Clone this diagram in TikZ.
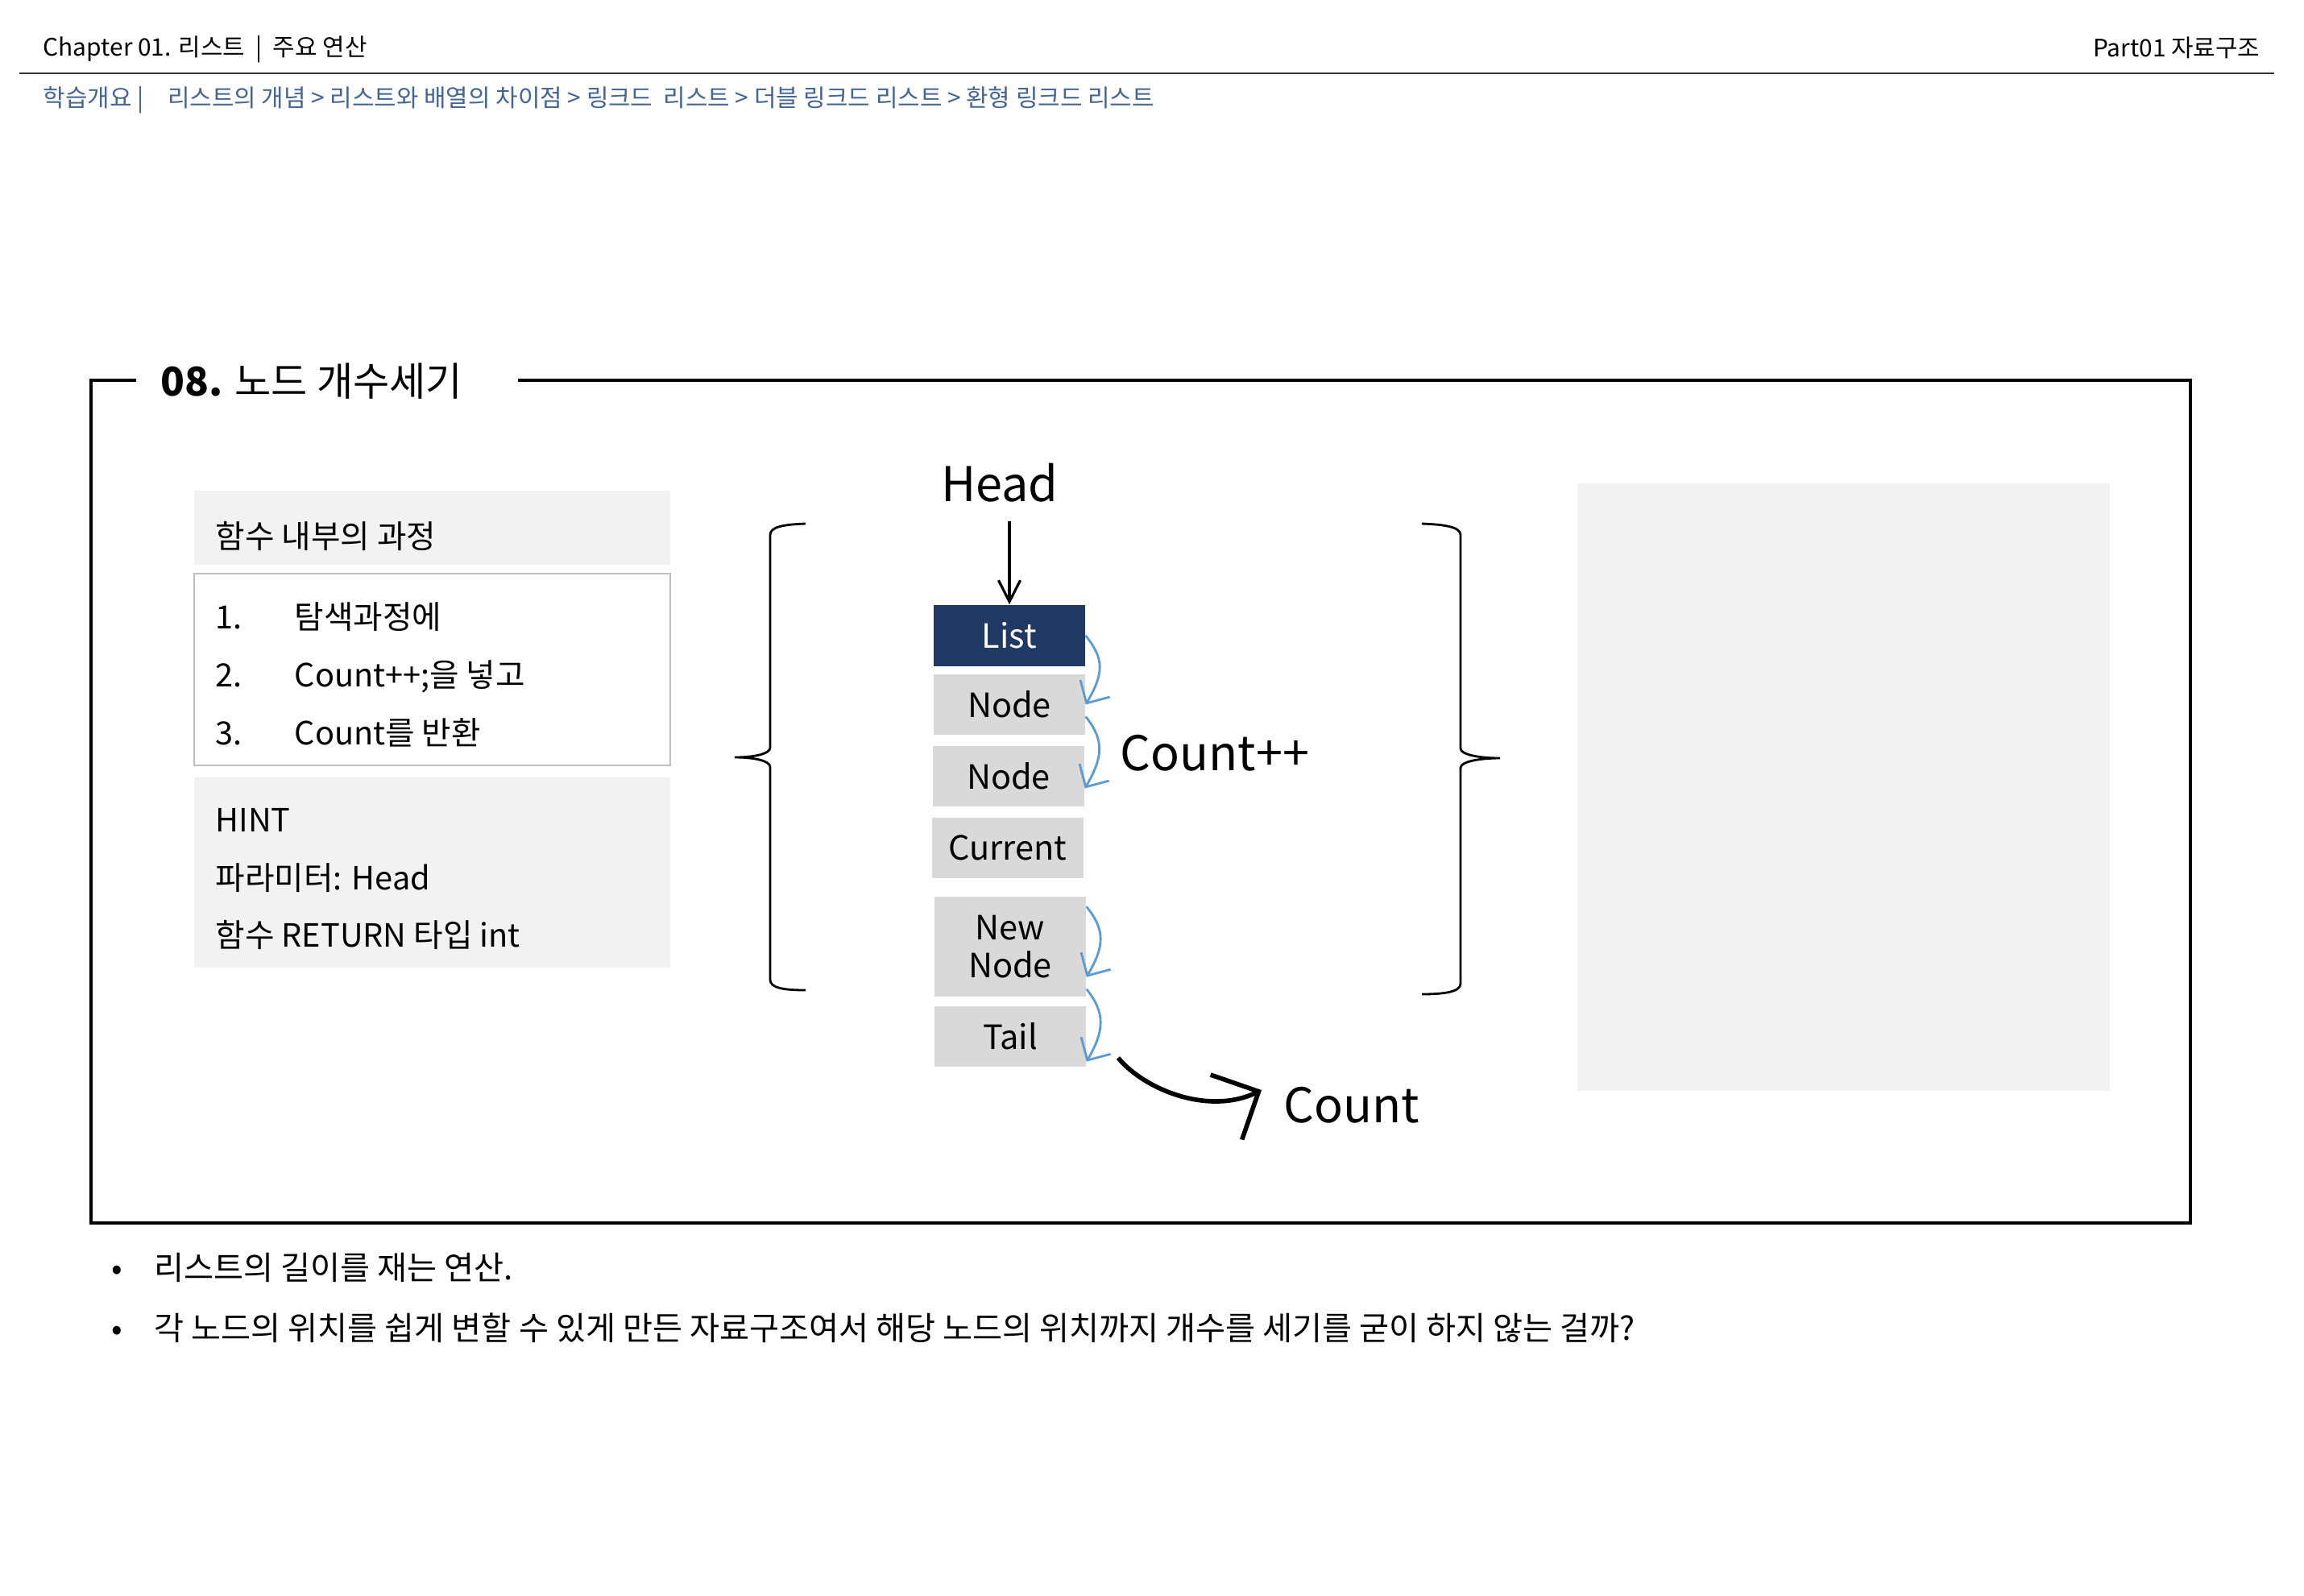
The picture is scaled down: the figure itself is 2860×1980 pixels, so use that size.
\documentclass[tikz,border=0pt]{standalone}
\usepackage{fontspec}
\setmainfont{Noto Sans CJK KR}
\usepackage{tikz}
\usetikzlibrary{arrows.meta}
\definecolor{navy}{RGB}{31,56,100}
\definecolor{cellgray}{RGB}{217,217,217}
\definecolor{panelgray}{RGB}{242,242,242}
\definecolor{panelrule}{RGB}{191,191,191}
\definecolor{arrowblue}{RGB}{91,155,213}
\definecolor{crumb}{RGB}{68,100,145}
\newcommand\headfont{\fontsize{8.5pt}{10pt}\selectfont}
\newcommand\crumbfont{\fontsize{8.5pt}{10pt}\selectfont}
\newcommand\titlefont{\fontsize{14pt}{16pt}\selectfont}
\newcommand\panelfont{\fontsize{11.3pt}{13pt}\selectfont}
\newcommand\cellfont{\fontsize{11.8pt}{13.4pt}\selectfont}
\newcommand\bigfont{\fontsize{16.9pt}{20pt}\selectfont}
\newcommand\bulletfont{\fontsize{11.45pt}{13pt}\selectfont}
\tikzset{cell/.style={fill=cellgray,minimum width=18.8mm,minimum height=7.5mm,inner sep=0pt,font=\cellfont},
listcell/.style={cell,fill=navy,text=white},
txt/.style={anchor=base west,inner sep=0pt,font=\panelfont},
panel/.style={fill=panelgray,anchor=north west,minimum width=59.1mm,inner sep=0pt},
cntarrow/.style={draw=arrowblue,line width=0.8pt,-{Straight Barb[angle=90:8.5pt]}},
bigarrow/.style={line width=1.6pt,-{Straight Barb[angle=90:18pt]}},
headarrow/.style={line width=0.9pt,-{Straight Barb[angle=54:8.5pt]}},
bracepath/.style={line width=0.8pt},
frameline/.style={line width=1pt}}

\begin{document}
\begin{tikzpicture}[x=0.1mm,y=-0.1mm]
\useasboundingbox (0,0) rectangle (2860,1980);
% page header
\node[anchor=base west,inner sep=0pt,font=\headfont] (chap) at (53,69) {Chapter 01. 리스트 \ | \ 주요 연산};
\node[anchor=base east,inner sep=0pt,font=\headfont] (part) at (2806,70) {Part01 자료구조};
\draw[line width=0.6pt,black!80] (24,91) -- (2823,91);
\node[anchor=base west,inner sep=0pt,font=\crumbfont,text=crumb] (crumb) at (53,132) {학습개요 |\quad 리스트의 개념 > 리스트와 배열의 차이점 > 링크드\ \ 리스트 > 더블 링크드 리스트 > 환형 링크드 리스트};
% frame and title
\node[anchor=base west,inner sep=0pt,font=\titlefont] (title) at (199,491) {\textbf{08.} 노드 개수세기};
\draw[frameline] (643,472) -- (2719,472) -- (2719,1518) -- (113,1518) -- (113,472) -- (169,472);
% left panel
\node[panel,minimum height=9.2mm] (procbox) at (240,608) {};
\node[panel,fill=white,draw=panelrule,line width=0.7pt,minimum height=23.8mm] (stepbox) at (240,711) {};
\node[panel,minimum height=23.6mm] (hintbox) at (240,964) {};
\node[txt] (proc) at (267,680) {함수 내부의 과정};
\node[txt] (n1) at (267,780) {1.};
\node[txt] (s1) at (365,780) {탐색과정에};
\node[txt] (n2) at (267,852) {2.};
\node[txt] (s2) at (365,852) {Count++;을 넣고};
\node[txt] (n3) at (267,924) {3.};
\node[txt] (s3) at (365,924) {Count를 반환};
\node[txt] (hint) at (267,1032) {HINT};
\node[txt] (param) at (267,1104) {파라미터: Head};
\node[txt] (ret) at (267,1175) {함수 RETURN 타입 int};
% braces
\draw[bracepath] (1000,650) .. controls (972,651) and (956,654) .. (956,664) -- (956,928)
  .. controls (956,936) and (935,940) .. (912,940) .. controls (935,940) and (956,944) .. (956,952)
  -- (956,1216) .. controls (956,1226) and (972,1229) .. (1000,1229);
\draw[bracepath] (1765,650) .. controls (1793,651) and (1813,654) .. (1813,664) -- (1813,929)
  .. controls (1813,937) and (1838,941) .. (1862,941) .. controls (1838,941) and (1813,945) .. (1813,953)
  -- (1813,1221) .. controls (1813,1231) and (1793,1234) .. (1765,1234);
% list of cells
\node[inner sep=0pt,anchor=base,font=\bigfont] (head) at (1241,622) {Head};
\node[listcell,minimum height=7.6mm] (list) at (1253,789) {List};
\node[cell] (node1) at (1253,874.5) {Node};
\node[cell] (node2) at (1252,963.5) {Node};
\node[cell] (current) at (1251,1052.5) {Current};
\node[cell,minimum height=12.4mm,align=center] (newnode) at (1254,1175) {New\\Node};
\node[cell] (tail) at (1254,1286.5) {Tail};
\draw[headarrow] ([yshift=-2.4mm]head.south -| list.north) -- (list.north);
% counting arrows
\draw[cntarrow] (list.east) .. controls +(24,30) and +(22,-38) .. (node1.east);
\draw[cntarrow] ([yshift=-1.5mm]node1.east) .. controls +(24,30) and +(22,-38) .. ([yshift=-1.5mm]node2.east);
\draw[cntarrow] ([yshift=-1.3mm]newnode.north east) .. controls +(24,30) and +(22,-38) .. ([yshift=2.5mm]newnode.south east);
\draw[cntarrow] ([yshift=1mm]newnode.south east) .. controls +(24,30) and +(22,-38) .. ([yshift=0.7mm]tail.south east);
\node[anchor=base west,inner sep=0pt,font=\bigfont] (cntpp) at (1390,956) {Count++};
% result
\node[anchor=base west,inner sep=0pt,font=\bigfont] (cnt) at (1593,1393) {Count};
\coordinate (cfrom) at (1388,1313);
\coordinate (cto) at (1566,1353);
\draw[bigarrow] (cfrom) .. controls (1420,1352) and (1500,1385) .. (cto);
% empty panel on the right
\fill[panelgray] (1958,600) rectangle (2619,1354);
% notes below
\node[anchor=base,inner sep=0pt,font=\bulletfont] (b1) at (145,1588) {•};
\node[anchor=base west,inner sep=0pt,font=\bulletfont] (note1) at (191,1588) {리스트의 길이를 재는 연산.};
\node[anchor=base,inner sep=0pt,font=\bulletfont] (b2) at (145,1663) {•};
\node[anchor=base west,inner sep=0pt,font=\bulletfont] (note2) at (191,1663) {각 노드의 위치를 쉽게 변할 수 있게 만든 자료구조여서 해당 노드의 위치까지 개수를 세기를 굳이 하지 않는 걸까?};
\end{tikzpicture}
\end{document}
